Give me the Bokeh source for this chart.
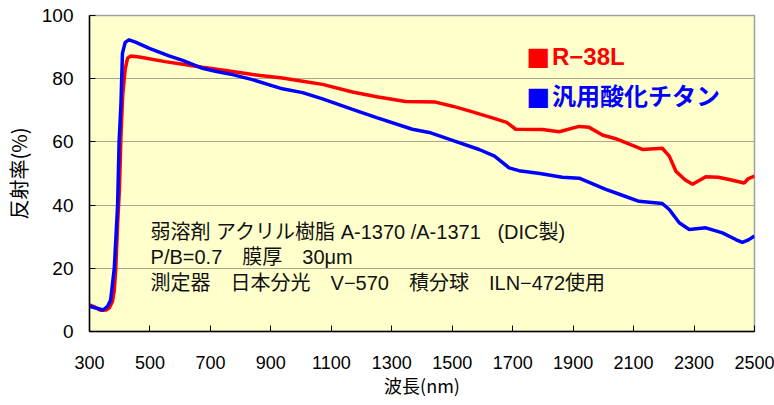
from bokeh.plotting import figure
from bokeh.models import Range1d, Label, FixedTicker
from bokeh.embed import file_html
from bokeh.resources import INLINE

# ---- data ----
wl_red = [300, 320, 336, 355, 365, 376, 382, 387, 393, 399, 404, 410, 418, 426, 437,
          470, 550, 608, 674, 773, 840, 938, 1005, 1071, 1170, 1250, 1346, 1445,
          1501, 1556, 1633, 1680, 1710, 1798, 1854, 1920, 1953, 1997, 2041, 2129,
          2195, 2218, 2240, 2270, 2295, 2339, 2380, 2416, 2466, 2480, 2500]
refl_red = [8.4, 7.6, 6.7, 6.8, 7.4, 9.5, 13.0, 20.0, 34.0, 45.0, 62.0, 75.0, 83.0, 86.5, 87.2,
            86.8, 85.4, 84.6, 83.6, 82.3, 81.3, 80.2, 79.2, 78.2, 75.8, 74.3, 72.8, 72.6,
            71.3, 69.8, 67.6, 66.2, 64.0, 63.9, 63.2, 64.9, 64.6, 62.2, 61.0, 57.6,
            58.0, 55.5, 50.7, 48.0, 46.6, 49.0, 48.8, 48.1, 47.0, 48.4, 49.2]

wl_blue = [300, 330, 345, 360, 370, 382, 393, 398, 404, 409, 418, 431, 452, 500, 563,
           608, 674, 720, 773, 839, 938, 1005, 1071, 1170, 1250, 1368, 1424, 1501,
           1589, 1640, 1688, 1721, 1790, 1864, 1920, 2008, 2060, 2118, 2195, 2218,
           2251, 2284, 2339, 2394, 2438, 2460, 2480, 2500]
refl_blue = [8.0, 7.2, 6.8, 8.0, 10.0, 20.0, 40.0, 60.0, 72.0, 88.0, 91.5, 92.3, 91.6, 89.5, 87.2,
             85.8, 83.3, 82.3, 81.3, 79.7, 76.8, 75.6, 73.6, 70.3, 67.7, 64.0, 63.0, 60.5,
             57.6, 55.5, 51.8, 50.9, 50.0, 48.8, 48.5, 45.0, 43.2, 41.2, 40.5, 38.6,
             34.4, 32.3, 32.8, 31.2, 29.1, 28.2, 29.0, 30.2]

x_ticks = [300, 500, 700, 900, 1100, 1300, 1500, 1700, 1900, 2100, 2300, 2500]
y_ticks = [0, 20, 40, 60, 80, 100]

series_names = ["R\u221238L", "汎用酸化チタン"]
series_colors = ["#ff0000", "#0000ff"]

NB = "\u00a0"
note_lines = [
    "弱溶剤 アクリル樹脂 A-1370 /A-1371" + NB * 3 + "(DIC製)",
    "P/B=0.7\u3000膜厚\u300030μm",
    "測定器\u3000日本分光\u3000V\u2212570\u3000積分球\u3000ILN\u2212472使用",
]

JP = "Noto Sans CJK JP"
MIX = "Liberation Sans, Noto Sans CJK JP"
NUM = "Liberation Sans"

p = figure(frame_width=665, frame_height=316, output_backend="svg", toolbar_location=None,
           x_range=Range1d(300, 2500), y_range=Range1d(0, 100),
           min_border_left=79, min_border_right=20, min_border_top=15, min_border_bottom=60)

p.background_fill_color = "#ffffcc"
p.border_fill_color = "white"
p.outline_line_color = "#a0a0a0"
p.outline_line_width = 1.5

p.xgrid.grid_line_color = None
p.ygrid.grid_line_color = "#a8a890"
p.ygrid.grid_line_width = 1.2

# x axis
p.xaxis.ticker = FixedTicker(ticks=x_ticks)
p.xaxis.minor_tick_line_color = None
p.xaxis.major_tick_in = 6
p.xaxis.major_tick_out = 0
p.xaxis.major_tick_line_color = "black"
p.xaxis.axis_line_color = "black"
p.xaxis.axis_line_width = 1.5
p.xaxis.major_label_standoff = 24
p.xaxis.major_label_text_font = NUM
p.xaxis.major_label_text_font_size = "18px"
p.xaxis.major_label_text_color = "black"
p.xaxis.axis_label = "波長(nm)"
p.xaxis.axis_label_text_font = JP
p.xaxis.axis_label_text_font_size = "18px"
p.xaxis.axis_label_text_font_style = "normal"
p.xaxis.axis_label_text_color = "black"
p.xaxis.axis_label_standoff = 0

# y axis
p.yaxis.ticker = FixedTicker(ticks=y_ticks)
p.yaxis.minor_tick_line_color = None
p.yaxis.major_tick_in = 6
p.yaxis.major_tick_out = 0
p.yaxis.major_tick_line_color = "black"
p.yaxis.axis_line_color = "black"
p.yaxis.axis_line_width = 1.5
p.yaxis.major_label_standoff = 16
p.yaxis.major_label_text_font = NUM
p.yaxis.major_label_text_font_size = "19px"
p.yaxis.major_label_text_color = "black"
p.yaxis.axis_label = "反射率(%)"
p.yaxis.axis_label_text_font = JP
p.yaxis.axis_label_text_font_size = "20px"
p.yaxis.axis_label_text_font_style = "normal"
p.yaxis.axis_label_text_color = "black"
p.yaxis.axis_label_standoff = 6

# curves
p.line(wl_red, refl_red, line_color=series_colors[0], line_width=3.5)
p.line(wl_blue, refl_blue, line_color=series_colors[1], line_width=3.5)

# legend: coloured square + coloured bold text
legend_y = [87.0, 74.4]
for name, col, yy in zip(series_names, series_colors, legend_y):
    p.add_layout(Label(x=1745, y=yy, text="■", text_color=col,
                       text_font=JP, text_font_size="24px",
                       text_baseline="middle", text_align="left"))
    p.add_layout(Label(x=1830, y=yy, text=name, text_color=col,
                       text_font=MIX, text_font_size="24px", text_font_style="bold",
                       text_baseline="middle", text_align="left"))

# annotation text
note_y = [31.6, 23.7, 15.5]
for t, yy in zip(note_lines, note_y):
    p.add_layout(Label(x=502, y=yy, text=t, text_color="#111111",
                       text_font=MIX, text_font_size="20px",
                       text_baseline="middle", text_align="left"))

open("out.html", "w").write(file_html(p, INLINE))
